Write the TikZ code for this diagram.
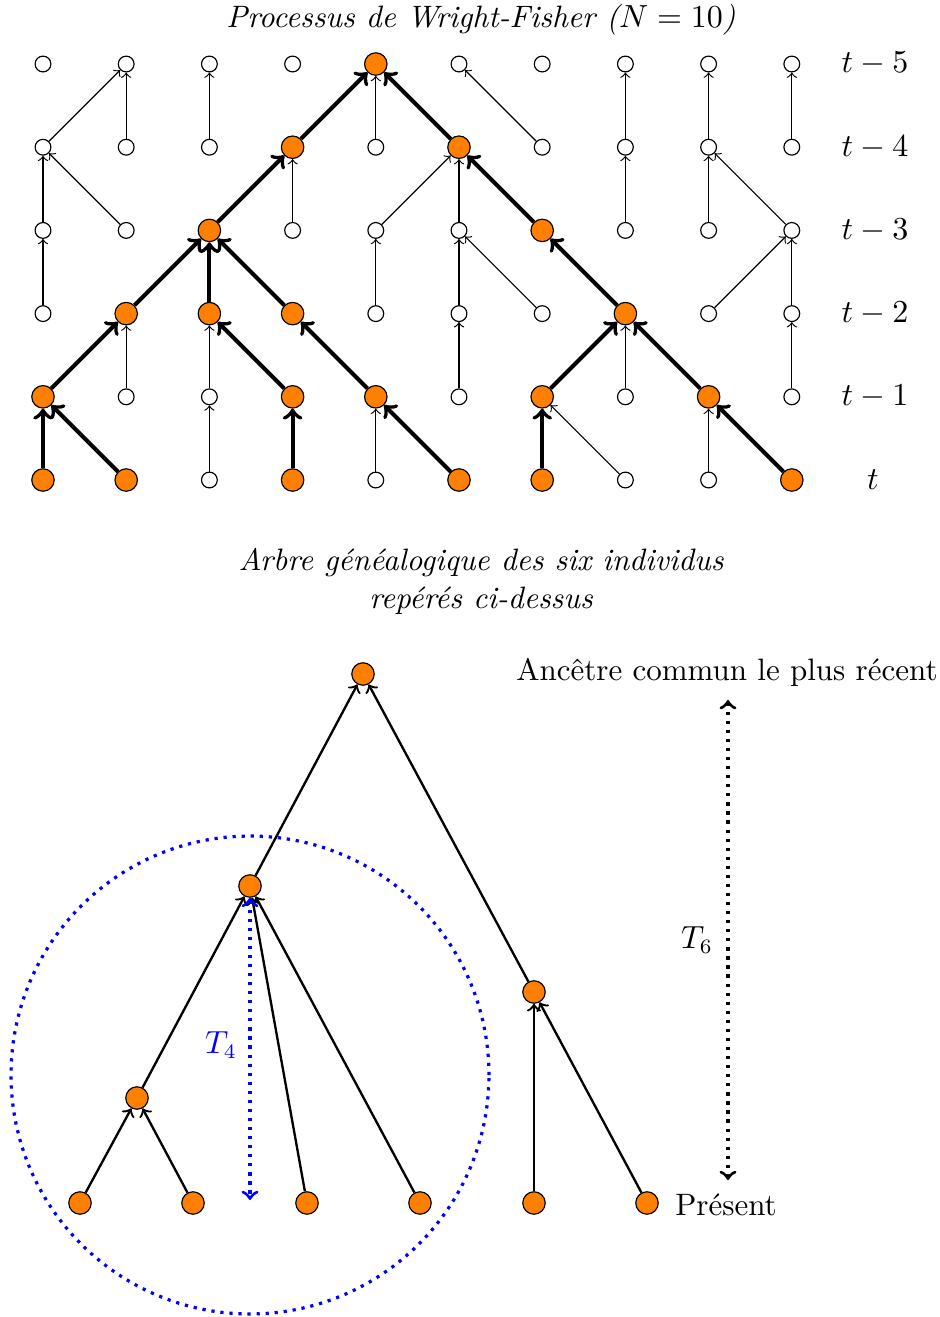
\documentclass[tikz,border=0pt]{standalone}
\begin{document}
\begin{tikzpicture}[x=0.0120192cm,y=-0.0120192cm,
  font=\fontsize{10.6}{13}\selectfont,
  wnode/.style={circle,draw,thin,fill=white,minimum size=0.19cm,inner sep=0pt},
  onode/.style={circle,draw,thin,fill=orange,minimum size=0.27cm,inner sep=0pt},
  thinarr/.style={->,thin},
  thickarr/.style={->,line width=1.4pt},
  treearr/.style={->,thick},
  dotarr/.style={<->,line width=1.1pt,dotted}]
\useasboundingbox (0,0) rectangle (940,1317);

% ---- Wright-Fisher grid ----
\node (title) at (481,20) {\itshape Processus de Wright-Fisher ($N=10$)};

\foreach \c/\s in {1/onode,2/onode,3/wnode,4/onode,5/wnode,6/onode,7/onode,8/wnode,9/wnode,10/onode}
  \node[\s] (n0-\c) at ({43+83.2*(\c-1)},480) {};
\foreach \c/\s in {1/onode,2/wnode,3/wnode,4/onode,5/onode,6/wnode,7/onode,8/wnode,9/onode,10/wnode}
  \node[\s] (n1-\c) at ({43+83.2*(\c-1)},396.8) {};
\foreach \c/\s in {1/wnode,2/onode,3/onode,4/onode,5/wnode,6/wnode,7/wnode,8/onode,9/wnode,10/wnode}
  \node[\s] (n2-\c) at ({43+83.2*(\c-1)},313.6) {};
\foreach \c/\s in {1/wnode,2/wnode,3/onode,4/wnode,5/wnode,6/wnode,7/onode,8/wnode,9/wnode,10/wnode}
  \node[\s] (n3-\c) at ({43+83.2*(\c-1)},230.4) {};
\foreach \c/\s in {1/wnode,2/wnode,3/wnode,4/onode,5/wnode,6/onode,7/wnode,8/wnode,9/wnode,10/wnode}
  \node[\s] (n4-\c) at ({43+83.2*(\c-1)},147.2) {};
\foreach \c/\s in {1/wnode,2/wnode,3/wnode,4/wnode,5/onode,6/wnode,7/wnode,8/wnode,9/wnode,10/wnode}
  \node[\s] (n5-\c) at ({43+83.2*(\c-1)},64) {};

\foreach \c/\p/\s in {1/1/thickarr,2/1/thickarr,3/3/thinarr,4/4/thickarr,5/5/thinarr,6/5/thickarr,7/7/thickarr,8/7/thinarr,9/9/thinarr,10/9/thickarr}
  \draw[\s] (n0-\c) -- (n1-\p);
\foreach \c/\p/\s in {1/2/thickarr,2/2/thinarr,3/3/thinarr,4/3/thickarr,5/4/thickarr,6/6/thinarr,7/8/thickarr,8/8/thinarr,9/8/thickarr,10/10/thinarr}
  \draw[\s] (n1-\c) -- (n2-\p);
\foreach \c/\p/\s in {1/1/thinarr,2/3/thickarr,3/3/thickarr,4/3/thickarr,5/5/thinarr,6/6/thinarr,7/6/thinarr,8/7/thickarr,9/10/thinarr,10/10/thinarr}
  \draw[\s] (n2-\c) -- (n3-\p);
\foreach \c/\p/\s in {1/1/thinarr,2/1/thinarr,3/4/thickarr,4/4/thinarr,5/6/thinarr,6/6/thinarr,7/6/thickarr,8/8/thinarr,9/9/thinarr,10/9/thinarr}
  \draw[\s] (n3-\c) -- (n4-\p);
\foreach \c/\p/\s in {1/2/thinarr,2/2/thinarr,3/3/thinarr,4/5/thickarr,5/5/thinarr,6/5/thickarr,7/6/thinarr,8/8/thinarr,9/9/thinarr,10/10/thinarr}
  \draw[\s] (n4-\c) -- (n5-\p);

\node (l5) at (875,64) {$t-5$};
\node (l4) at (875,147.2) {$t-4$};
\node (l3) at (875,230.4) {$t-3$};
\node (l2) at (875,313.6) {$t-2$};
\node (l1) at (875,396.8) {$t-1$};
\node (l0) at (873,480) {$t$};

% ---- Genealogy ----
\node[align=center,font={\fontsize{10.6}{13}\selectfont\itshape}] (title2) at (481,581)
  {Arbre généalogique des six individus\\repérés ci-dessus};

\node[onode] (root) at (363,674) {};
\node[onode] (A) at (250,886) {};
\node[onode] (B) at (534,992) {};
\node[onode] (C) at (137,1098) {};
\foreach \i/\x in {1/80,2/193,3/307,4/420,5/534,6/647}
  \node[onode] (L\i) at (\x,1203) {};

\draw[treearr] (A) -- (root);
\draw[treearr] (B) -- (root);
\draw[treearr] (C) -- (A);
\draw[treearr] (L3) -- (A);
\draw[treearr] (L4) -- (A);
\draw[treearr] (L1) -- (C);
\draw[treearr] (L2) -- (C);
\draw[treearr] (L5) -- (B);
\draw[treearr] (L6) -- (B);

\draw[blue,line width=1.1pt,dotted] (250,1075) circle[radius=2.873cm];
\coordinate (t4b) at (250,1200);
\draw[dotarr,blue] (A) -- (t4b);
\node[text=blue] (T4) at (221,1045) {$T_4$};

\coordinate (t6a) at (728,700);
\coordinate (t6b) at (728,1180);
\draw[dotarr] (t6a) -- (t6b);
\node (T6) at (697,940) {$T_6$};

\node (mrca) at (727,672) {Ancêtre commun le plus récent};
\node (pres) at (726,1205) {Présent};
\end{tikzpicture}
\end{document}
